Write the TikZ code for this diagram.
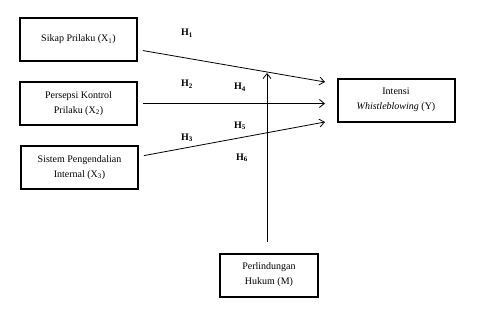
\documentclass[tikz,border=0pt]{standalone}
\usepackage{fontspec}
\setmainfont{Liberation Serif}
\usetikzlibrary{arrows.meta, positioning}

\begin{document}
\begin{tikzpicture}[x=1pt, y=-1pt,
      var/.style={draw, line width=2pt, minimum width=117pt, minimum height=43pt,
                  inner sep=1pt, align=center, font=\fontsize{10}{15}\selectfont},
      hyp/.style={font=\fontsize{10}{12}\selectfont\bfseries},
      lnk/.style={line width=0.8pt, -{Straight Barb[length=5pt, width=8pt]}}]
    \useasboundingbox (0,0) rectangle (489,321);
    \node[var] (x1) at (78.5,39.5)  {Sikap Prilaku (X\textsubscript{1})};
    \node[var] (x2) at (78.5,103.5) {Persepsi Kontrol\\Prilaku (X\textsubscript{2})};
    \node[var] (x3) at (79.5,167.5) {Sistem Pengendalian\\Internal (X\textsubscript{3})};
    \node[var] (y)  at (396,100)    {Intensi\\\textit{Whistleblowing} (Y)};
    \node[var, minimum width=98pt] (m) at (269,275) {Perlindungan\\Hukum (M)};
    \coordinate (y1) at (325,82);
    \coordinate (y2) at (325,103.5);
    \coordinate (y3) at (325,122);
    \coordinate (mt) at (267,73);
    \foreach \a/\b in {x1/y1, x2/y2, x3/y3}
      \draw[lnk, shorten <=5pt] (\a) -- (\b);
    \draw[lnk, shorten <=11pt] (m.north -| mt) -- (mt);
    \node[hyp] (h1) at (187,33)  {H\textsubscript{1}};
    \node[hyp] (h2) at (187,84)  {H\textsubscript{2}};
    \node[hyp] (h3) at (187,138) {H\textsubscript{3}};
    \node[hyp] (h4) at (240,87)  {H\textsubscript{4}};
    \node[hyp] (h5) at (240,126) {H\textsubscript{5}};
    \node[hyp] (h6) at (242,158) {H\textsubscript{6}};
  \end{tikzpicture}
\end{document}
